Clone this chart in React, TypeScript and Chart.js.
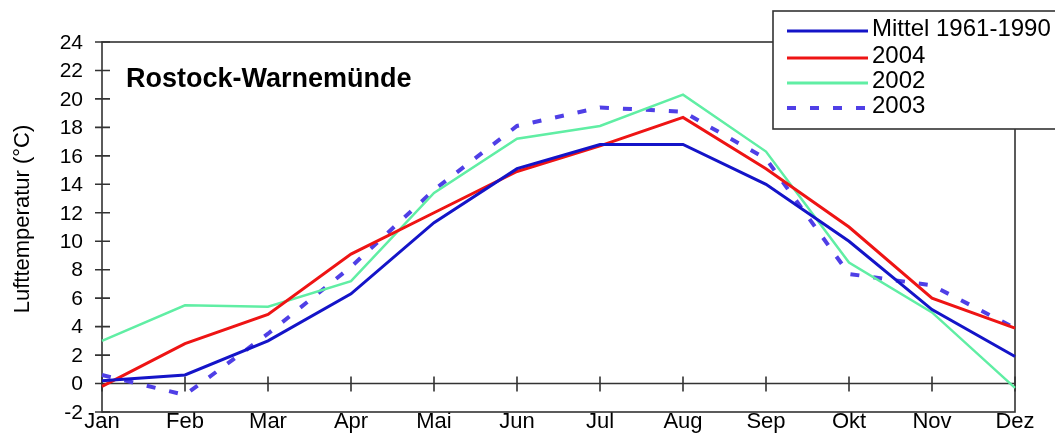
import React, { useEffect, useRef } from "react";
import { Chart, registerables } from "chart.js";

Chart.register(...registerables);

const months = ["Jan", "Feb", "Mar", "Apr", "Mai", "Jun", "Jul", "Aug", "Sep", "Okt", "Nov", "Dez"];
const mittel = [0.2, 0.6, 3.0, 6.3, 11.3, 15.1, 16.8, 16.8, 14.0, 10.0, 5.2, 1.9];
const y2004 = [-0.2, 2.8, 4.85, 9.1, 12.0, 14.9, 16.7, 18.7, 15.1, 11.0, 6.0, 3.9];
const y2002 = [3.0, 5.5, 5.4, 7.2, 13.4, 17.2, 18.1, 20.3, 16.3, 8.5, 5.0, -0.3];
const y2003 = [0.6, -0.8, 3.5, 8.2, 13.6, 18.1, 19.4, 19.1, 15.8, 7.7, 6.9, 3.9];
const yTicks = [-2, 0, 2, 4, 6, 8, 10, 12, 14, 16, 18, 20, 22, 24];

const seriesNames = ["Mittel 1961-1990", "2004", "2002", "2003"];
const colors = ["#1414c8", "#ee1414", "#60eea4", "#4f3fe6"];
const chartTitle = "Rostock-Warnemünde";
const yTitle = "Lufttemperatur (°C)";

const FONT = "'Liberation Sans', Arial, sans-serif";

const decor = {
  id: "decor",
  beforeDatasetsDraw(chart: any) {
    const { ctx, chartArea, scales } = chart;
    const { left, top, right, bottom } = chartArea;
    ctx.save();
    ctx.strokeStyle = "#333";
    ctx.lineWidth = 1.6;
    ctx.strokeRect(left, top, right - left, bottom - top);
    const y0 = scales.y.getPixelForValue(0);
    ctx.beginPath();
    ctx.moveTo(left, y0);
    ctx.lineTo(right, y0);
    for (let i = 0; i < months.length; i++) {
      const x = scales.x.getPixelForValue(i);
      ctx.moveTo(x, y0 - 7);
      ctx.lineTo(x, y0 + 8);
    }
    for (const v of yTicks) {
      const y = scales.y.getPixelForValue(v);
      ctx.moveTo(left - 7, y);
      ctx.lineTo(left + 8, y);
    }
    ctx.stroke();
    // y tick labels
    ctx.fillStyle = "#000";
    ctx.font = `21px ${FONT}`;
    ctx.textAlign = "right";
    ctx.textBaseline = "middle";
    for (const v of yTicks) {
      const y = scales.y.getPixelForValue(v);
      ctx.fillText(String(v), left - 19, y + 1);
    }
    ctx.restore();
  },
  afterDraw(chart: any) {
    const { ctx } = chart;
    ctx.save();
    // title
    ctx.fillStyle = "#000";
    ctx.font = `bold 27px ${FONT}`;
    ctx.textAlign = "left";
    ctx.textBaseline = "middle";
    ctx.fillText(chartTitle, 126, 80);
    // y title
    ctx.save();
    ctx.translate(23, 219);
    ctx.rotate(-Math.PI / 2);
    ctx.font = `22px ${FONT}`;
    ctx.textAlign = "center";
    ctx.textBaseline = "middle";
    ctx.fillText(yTitle, 0, 0);
    ctx.restore();
    // legend
    ctx.fillStyle = "#fff";
    ctx.fillRect(773, 11, 300, 118);
    ctx.strokeStyle = "#333";
    ctx.lineWidth = 1.6;
    ctx.strokeRect(773, 11, 300, 118);
    const rows = [31, 58, 83, 108];
    seriesNames.forEach((name, i) => {
      const ly = rows[i];
      ctx.beginPath();
      ctx.strokeStyle = colors[i];
      ctx.lineWidth = i === 3 ? 4 : 3;
      ctx.setLineDash(i === 3 ? [9, 14] : []);
      ctx.moveTo(787, ly);
      ctx.lineTo(868, ly);
      ctx.stroke();
      ctx.setLineDash([]);
      ctx.fillStyle = "#000";
      ctx.font = `24px ${FONT}`;
      ctx.textAlign = "left";
      ctx.textBaseline = "middle";
      ctx.fillText(name, 872, ly - 2);
    });
    ctx.restore();
  },
};

export default function App() {
  const ref = useRef<HTMLCanvasElement>(null);
  useEffect(() => {
    document.body.style.margin = "0";
    const canvas = ref.current!;
    const chart = new Chart(canvas, {
      type: "line",
      data: {
        labels: months,
        datasets: [
          { label: seriesNames[0], data: mittel, borderColor: colors[0], borderWidth: 3 },
          { label: seriesNames[1], data: y2004, borderColor: colors[1], borderWidth: 3 },
          { label: seriesNames[2], data: y2002, borderColor: colors[2], borderWidth: 2.5 },
          { label: seriesNames[3], data: y2003, borderColor: colors[3], borderWidth: 4, borderDash: [9, 14] },
        ].map((d) => ({ ...d, pointRadius: 0, tension: 0, fill: false })),
      },
      options: {
        responsive: false,
        animation: false,
        devicePixelRatio: 1,
        layout: { padding: { top: 42, right: 40, left: 0, bottom: 0 } },
        plugins: { legend: { display: false }, tooltip: { enabled: false }, title: { display: false } },
        scales: {
          x: {
            type: "category",
            offset: false,
            grid: { display: false, drawTicks: false },
            border: { display: false },
            ticks: {
              color: "#000",
              font: { family: FONT, size: 22 },
              padding: -3,
              maxRotation: 0,
              autoSkip: false,
            },
            afterFit: (s: any) => {
              s.height = 22;
            },
          },
          y: {
            min: -2,
            max: 24,
            grid: { display: false, drawTicks: false },
            border: { display: false },
            ticks: { display: false, stepSize: 2 },
            afterFit: (s: any) => {
              s.width = 102;
            },
          },
        },
      },
      plugins: [decor],
    });
    return () => chart.destroy();
  }, []);
  return (
    <div style={{ position: "absolute", left: 0, top: 0, width: 1055, height: 434 }}>
      <canvas ref={ref} width={1055} height={434} />
    </div>
  );
}
